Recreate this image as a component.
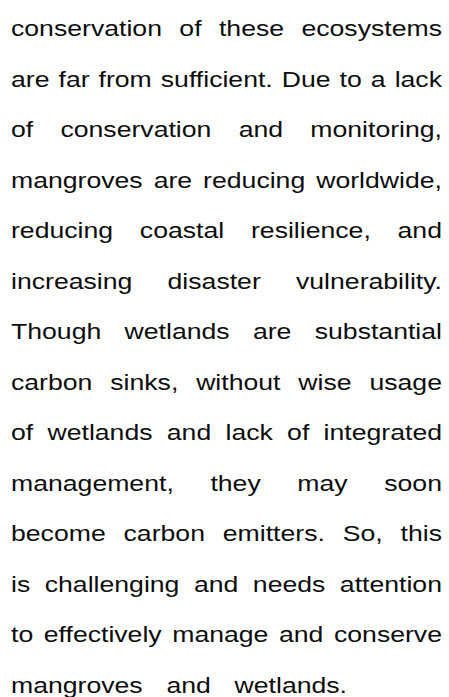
import React from 'react';

// Lines of the paragraph, as broken in the reference
const lines: string[] = [
  'conservation of these ecosystems',
  'are far from sufficient. Due to a lack',
  'of conservation and monitoring,',
  'mangroves are reducing worldwide,',
  'reducing coastal resilience, and',
  'increasing disaster vulnerability.',
  'Though wetlands are substantial',
  'carbon sinks, without wise usage',
  'of wetlands and lack of integrated',
  'management, they may soon',
  'become carbon emitters. So, this',
  'is challenging and needs attention',
  'to effectively manage and conserve',
  'mangroves and wetlands.',
];

const stretch = 1.21;
const boxWidth = 431;
const lastLineWordGap = 13.5;

export default function App() {
  return (
    <div
      style={{
        position: 'absolute',
        left: 11,
        top: 4,
        width: boxWidth / stretch,
        transform: `scaleX(${stretch})`,
        transformOrigin: 'left top',
        fontFamily: '"Liberation Sans", Arial, sans-serif',
        fontSize: 22,
        lineHeight: '50.5px',
        color: '#0d0d0d',
      }}
    >
      {lines.map((line, i) => {
        const isLast = i === lines.length - 1;
        return (
          <div
            key={i}
            style={{
              whiteSpace: 'nowrap',
              textAlign: isLast ? 'left' : 'justify',
              textAlignLast: isLast ? 'left' : 'justify',
              wordSpacing: isLast ? lastLineWordGap : undefined,
            }}
          >
            {line}
          </div>
        );
      })}
    </div>
  );
}
